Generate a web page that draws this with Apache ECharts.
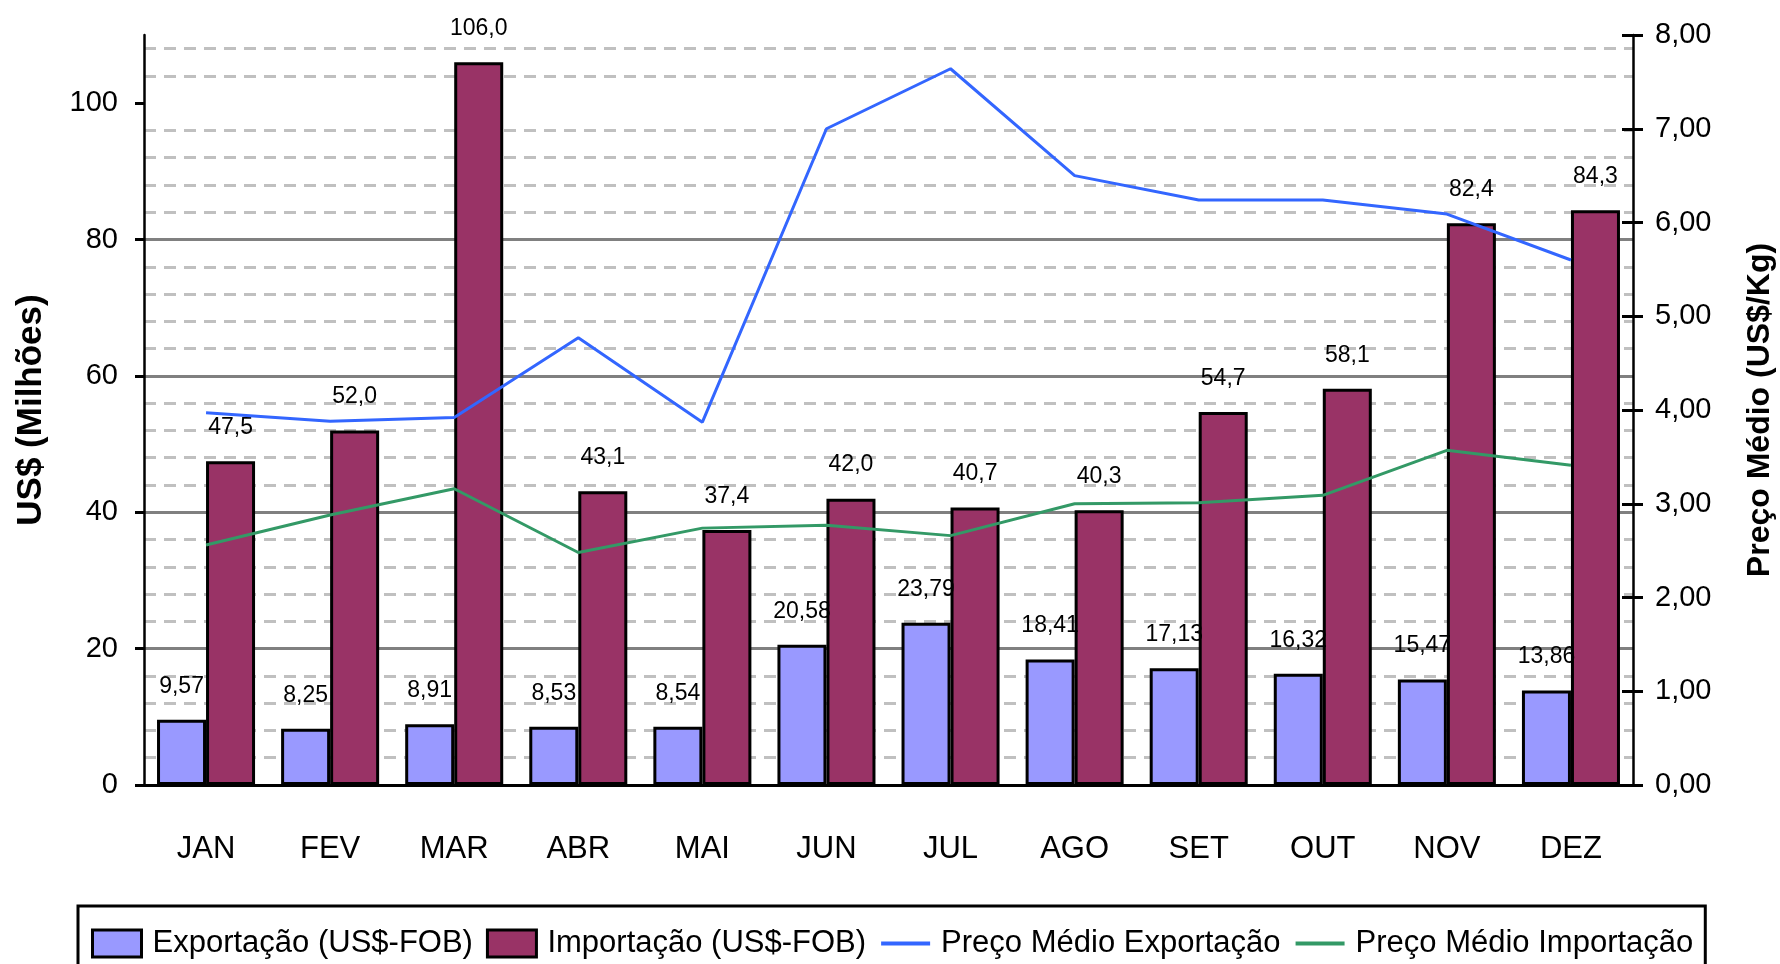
<!DOCTYPE html>
<html>
<head>
<meta charset="utf-8">
<script src="https://cdn.jsdelivr.net/npm/echarts@6/dist/echarts.min.js"></script>
<style>
  html, body { margin: 0; padding: 0; background: #fff; }
  #chart { width: 1780px; height: 964px; }
</style>
</head>
<body>
<div id="chart"></div>
<script>
// dados
var meses = ['JAN', 'FEV', 'MAR', 'ABR', 'MAI', 'JUN', 'JUL', 'AGO', 'SET', 'OUT', 'NOV', 'DEZ']
var exportacao = [9.57, 8.25, 8.91, 8.53, 8.54, 20.58, 23.79, 18.41, 17.13, 16.32, 15.47, 13.86]
var importacao = [47.5, 52.0, 106.0, 43.1, 37.4, 42.0, 40.7, 40.3, 54.7, 58.1, 82.4, 84.3]
var precoExportacao = [3.97, 3.88, 3.92, 4.77, 3.87, 7.00, 7.64, 6.50, 6.24, 6.24, 6.09, 5.60]
var precoImportacao = [2.56, 2.88, 3.16, 2.48, 2.74, 2.77, 2.66, 3.00, 3.01, 3.09, 3.57, 3.41]
var ticksMilhoes = [0, 20, 40, 60, 80, 100]

var fonte = 'Liberation Sans, Arial, sans-serif'
var virgula = function (v, casas) { return v.toFixed(casas).replace('.', ',') }

// cores das linhas de grade: some com a linha do topo (110) e, nas tracejadas, com as múltiplas de 20
var coresMaiores = [], coresMenores = []
for (var i = 0; i <= 6; i++) coresMaiores.push(i < 6 ? '#808080' : 'rgba(0,0,0,0)')
for (var j = 0; j <= 28; j++) coresMenores.push((j % 5 === 0 || j === 28) ? 'rgba(0,0,0,0)' : '#c0c0c0')

var chart = echarts.init(document.getElementById('chart'))
var option = {
  animation: false,
  backgroundColor: '#fff',
  textStyle: { fontFamily: fonte, color: '#000' },
  grid: { left: 144, right: 147, top: 35, bottom: 179, outerBoundsMode: 'none', containLabel: false },
  legend: {
    left: 78,
    top: 906,
    orient: 'horizontal',
    borderColor: '#000',
    borderWidth: 3,
    padding: [22, 12, 60, 13],
    itemGap: 13,
    itemWidth: 49,
    itemHeight: 27,
    textStyle: { fontSize: 31, color: '#000', fontFamily: fonte, padding: [0, 0, 0, 6] },
    data: [
      { name: 'Exportação (US$-FOB)', icon: 'rect', itemStyle: { color: '#9999FF', borderColor: '#000', borderWidth: 3 } },
      { name: 'Importação (US$-FOB)', icon: 'rect', itemStyle: { color: '#993366', borderColor: '#000', borderWidth: 3 } },
      { name: 'Preço Médio Exportação', itemStyle: { color: 'rgba(0,0,0,0)', borderWidth: 0 }, lineStyle: { width: 4 } },
      { name: 'Preço Médio Importação', itemStyle: { color: 'rgba(0,0,0,0)', borderWidth: 0 }, lineStyle: { width: 4 } }
    ]
  },
  xAxis: {
    type: 'category',
    data: meses,
    axisLine: { lineStyle: { color: '#000', width: 3 } },
    axisTick: { length: 12, lineStyle: { color: '#000', width: 3 } },
    axisLabel: { fontSize: 31, color: '#000', margin: 49, fontFamily: fonte },
    splitLine: { show: false }
  },
  yAxis: [
    {
      type: 'value', position: 'left', min: 0, max: 110, interval: 20,
      name: 'US$ (Milhões)', nameLocation: 'middle', nameRotate: 90, nameGap: 95,
      nameTextStyle: { fontSize: 35, fontWeight: 'bold', color: '#000', fontFamily: fonte },
      axisLine: { show: true, lineStyle: { color: '#000', width: 2.5 } },
      axisTick: { show: true, length: 9, customValues: ticksMilhoes, lineStyle: { color: '#000', width: 3 } },
      axisLabel: { fontSize: 29, color: '#000', margin: 26, customValues: ticksMilhoes, fontFamily: fonte },
      splitLine: { show: true, showMaxLine: false, lineStyle: { color: coresMaiores, width: 3 } }
    },
    {
      type: 'value', position: 'right', min: 0, max: 8, interval: 1,
      name: 'Preço Médio (US$/Kg)', nameLocation: 'middle', nameRotate: 90, nameGap: 111,
      nameTextStyle: { fontSize: 32, fontWeight: 'bold', color: '#000', fontFamily: fonte },
      axisLine: { show: true, lineStyle: { color: '#000', width: 2.5 } },
      axisTick: { show: true, length: 10, lineStyle: { color: '#000', width: 3 } },
      axisLabel: { fontSize: 29, color: '#000', margin: 22, fontFamily: fonte, formatter: function (v) { return virgula(v, 2) } },
      splitLine: { show: false }
    },
    {
      // marcas para dentro do eixo da direita (cruzadas)
      type: 'value', position: 'right', min: 0, max: 8, interval: 1,
      axisLine: { show: false },
      axisTick: { show: true, inside: true, length: 11, lineStyle: { color: '#000', width: 3 } },
      axisLabel: { show: false },
      splitLine: { show: false }
    },
    {
      // grade secundária tracejada
      type: 'value', position: 'left', min: 0, max: 110, interval: 4,
      axisLine: { show: false }, axisTick: { show: false }, axisLabel: { show: false },
      splitLine: { show: true, showMaxLine: false, lineStyle: { color: coresMenores, width: 3, type: [12, 8] } }
    }
  ],
  series: [
    {
      name: 'Exportação (US$-FOB)',
      type: 'bar',
      yAxisIndex: 0,
      barGap: '0%',
      barCategoryGap: '21%',
      data: exportacao,
      itemStyle: { color: '#9999FF', borderColor: '#000', borderWidth: 3 },
      label: {
        show: true, position: 'top', distance: 22, fontSize: 23, color: '#000', fontFamily: fonte,
        formatter: function (p) { return virgula(p.value, 2) }
      }
    },
    {
      name: 'Importação (US$-FOB)',
      type: 'bar',
      yAxisIndex: 0,
      barGap: '0%',
      barCategoryGap: '21%',
      data: importacao,
      itemStyle: { color: '#993366', borderColor: '#000', borderWidth: 3 },
      label: {
        show: true, position: 'top', distance: 22, fontSize: 23, color: '#000', fontFamily: fonte,
        formatter: function (p) { return virgula(p.value, 1) }
      }
    },
    {
      name: 'Preço Médio Exportação',
      type: 'line',
      yAxisIndex: 1,
      data: precoExportacao,
      symbol: 'none',
      itemStyle: { color: '#3366FF' },
      lineStyle: { color: '#3366FF', width: 3 }
    },
    {
      name: 'Preço Médio Importação',
      type: 'line',
      yAxisIndex: 1,
      data: precoImportacao,
      symbol: 'none',
      itemStyle: { color: '#339966' },
      lineStyle: { color: '#339966', width: 3 }
    }
  ]
}
chart.setOption(option, true)
</script>
</body>
</html>
